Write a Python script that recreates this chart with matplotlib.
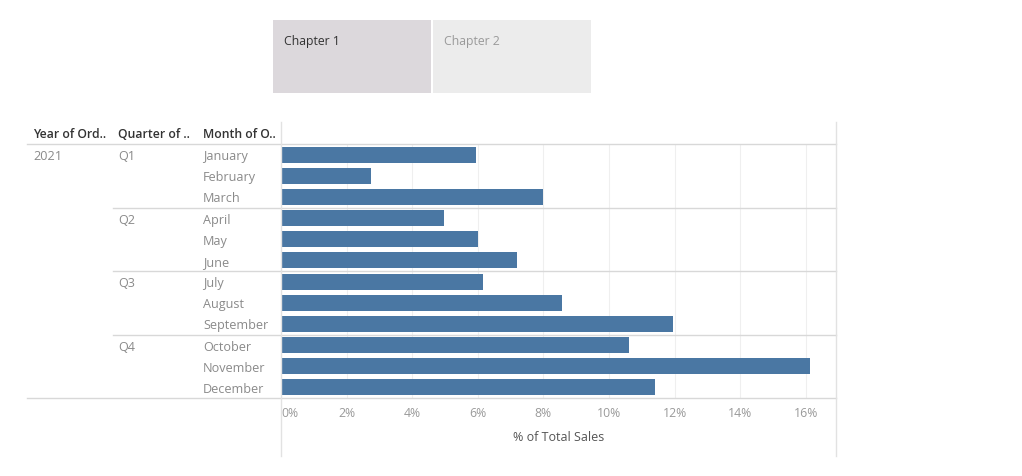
import matplotlib
matplotlib.use("Agg")
import matplotlib.pyplot as plt
import matplotlib.patches as mpatches
from matplotlib.lines import Line2D
from matplotlib.transforms import blended_transform_factory
import numpy as np

# data
years = ["2021"]
quarters = ["Q1", "Q2", "Q3", "Q4"]
months = ["January", "February", "March", "April", "May", "June",
          "July", "August", "September", "October", "November", "December"]
pct_total_sales = [5.95, 2.75, 8.0, 4.97, 6.0, 7.2,
                   6.15, 8.57, 11.95, 10.6, 16.13, 11.4]
x_ticks = [0, 2, 4, 6, 8, 10, 12, 14, 16]
tabs = ["Chapter 1", "Chapter 2"]
headers = ["Year of Ord..", "Quarter of ..", "Month of O.."]

W, H = 1022, 477
plt.rcParams['font.family'] = ['Open Sans', 'DejaVu Sans']

fig = plt.figure(figsize=(W / 100, H / 100), dpi=100)


def fx(px):
    return px / W


def fy(py):
    return 1 - py / H


# bar area in pixels
L, R, T, B = 281, 836, 145, 399
ax = fig.add_axes([fx(L), fy(B), fx(R - L), (B - T) / H])

n = len(months)
y = np.arange(n)
ax.barh(y, pct_total_sales, height=0.76, color='#4a77a3', zorder=3)
ax.set_ylim(n - 0.5, -0.5)
ax.set_xlim(0, 16.92)
ax.set_yticks([])
ax.set_xticks(x_ticks)
ax.set_xticklabels([f"{t}%" for t in x_ticks], color='#9a9a9a', fontsize=8.8)
ax.get_xticklabels()[0].set_horizontalalignment('left')
ax.tick_params(axis='x', length=0, pad=6)
ax.grid(True, axis='x', color='#efefef', linewidth=0.8, zorder=0)
for s in ax.spines.values():
    s.set_visible(False)
ax.set_xlabel("% of Total Sales", fontsize=9, color='#555555', labelpad=8)

# row labels, aligned to the bar rows
lab_fs = 9.1
tr = blended_transform_factory(fig.transFigure, ax.transData)
for i, m in enumerate(months):
    ax.text(fx(203), i + 0.05, m, transform=tr, fontsize=lab_fs, color='#8a8a8a',
            va='center', ha='left', clip_on=False)
for q, qn in enumerate(quarters):
    ax.text(fx(118), q * 3 + 0.05, qn, transform=tr, fontsize=lab_fs, color='#8a8a8a',
            va='center', ha='left', clip_on=False)
ax.text(fx(33), 0.05, years[0], transform=tr, fontsize=lab_fs, color='#8a8a8a',
        va='center', ha='left', clip_on=False)

# quarter separators
for q in range(1, len(quarters)):
    yy = q * 3 - 0.5
    ax.add_line(Line2D([fx(113), fx(R)], [yy, yy], transform=tr,
                       color='#d8d8d8', linewidth=1, clip_on=False))

# header row
for xp, h in zip([33, 118, 203], headers):
    fig.text(fx(xp), fy(134), h, fontsize=8.8, color='#333333',
             fontweight='semibold', va='center', ha='left')

# table frame lines
line_c = '#d8d8d8'
fig.add_artist(Line2D([fx(27), fx(R)], [fy(T), fy(T)], color=line_c, linewidth=1))
fig.add_artist(Line2D([fx(27), fx(R)], [fy(B), fy(B)], color=line_c, linewidth=1))
fig.add_artist(Line2D([fx(L), fx(L)], [fy(123), fy(457)], color='#e2e2e2', linewidth=1))
fig.add_artist(Line2D([fx(R), fx(R)], [fy(123), fy(457)], color='#e2e2e2', linewidth=1))

# story tabs
tab_x = [273, 433]
tab_colors = ['#dcd8dc', '#ececec']
tab_text = ['#333333', '#9a9a9a']
for xp, name, fc, tc in zip(tab_x, tabs, tab_colors, tab_text):
    fig.add_artist(mpatches.Rectangle((fx(xp), fy(94)), fx(158), (94 - 21) / H,
                                      facecolor=fc, edgecolor='none',
                                      transform=fig.transFigure))
    fig.text(fx(xp + 11), fy(42), name, fontsize=8.8, color=tc,
             va='center', ha='left')

fig.savefig("out.png", dpi=100)
